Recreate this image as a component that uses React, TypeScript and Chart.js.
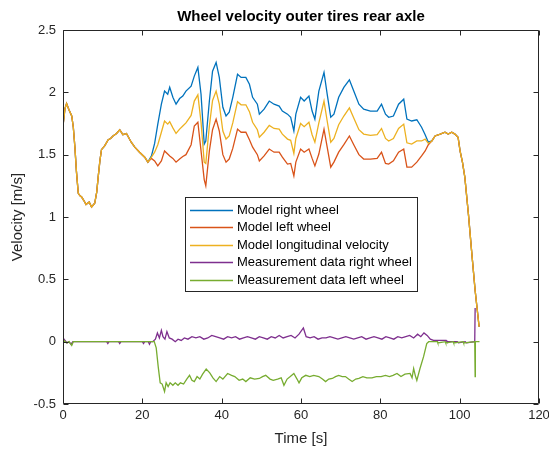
import React, { useEffect, useRef } from "react";
import { Chart, registerables } from "chart.js";

Chart.register(...registerables);

const TITLE = "Wheel velocity outer tires rear axle";
const X_LABEL = "Time [s]";
const Y_LABEL = "Velocity [m/s]";
const SERIES_NAMES = [
  "Model right wheel",
  "Model left wheel",
  "Model longitudinal velocity",
  "Measurement data right wheel",
  "Measurement data left wheel",
];
const SERIES_COLORS = ["#0072BD", "#D95319", "#EDB120", "#7E2F8E", "#77AC30"];

const X_TICKS = [0, 20, 40, 60, 80, 100, 120];
const Y_TICKS = [-0.5, 0, 0.5, 1, 1.5, 2, 2.5];

// Model time [s]
const modelTime = [
  0, 0.5, 0.9, 1.5, 2.2, 2.6, 3.0, 3.4, 3.85, 4.3, 4.7, 5.3, 5.8, 6.6, 7.2, 8.0, 8.5, 8.9, 9.3, 9.7,
  10.5, 11.4, 12.0, 12.6, 13.5, 14.3, 15.1, 16.0, 17.2, 18.1, 19.3, 20.6, 21.4, 22.3,
  23.1, 23.9, 24.8, 25.6, 26.4, 26.9, 27.7, 28.5, 29.4, 30.2, 31.0, 32.3, 33.1, 34.0, 34.8, 35.6,
  36.0, 36.9, 37.7, 38.6, 39.4, 40.3, 41.1, 41.9, 42.8, 44.0, 44.9, 46.1, 47.0, 47.8, 49.0, 49.5,
  50.7, 52.0, 53.2, 54.5, 55.3, 56.6, 57.4, 58.2, 58.7, 59.9, 60.8, 62.0, 62.8, 63.5, 64.5, 65.8,
  66.6, 67.5, 68.3, 69.5, 70.8, 72.2, 73.3, 74.6, 75.8, 77.5, 79.2, 80.3, 81.3, 82.1, 83.3, 84.6,
  85.9, 86.7, 87.9, 89.2, 90.4, 91.3, 92.1, 93.0, 93.8, 95.1, 96.3, 97.1, 98.0, 98.8, 99.6, 100.1,
  100.7, 101.3, 102.2, 103.0, 103.9, 104.9,
];

const modelRight = [
  1.73, 1.87, 1.91, 1.86, 1.81, 1.72, 1.56, 1.36, 1.19, 1.17, 1.16, 1.13, 1.1, 1.12, 1.08, 1.11, 1.2, 1.33, 1.45, 1.54,
  1.57, 1.62, 1.63, 1.65, 1.67, 1.7, 1.66, 1.67, 1.6, 1.56, 1.52, 1.48, 1.44, 1.49,
  1.59, 1.745, 1.905, 2.01, 1.985, 2.04, 1.96, 1.905, 1.95, 1.97, 2.01, 2.05, 2.13, 2.2, 1.985, 1.585,
  1.61, 1.93, 2.17, 2.24, 2.12, 1.88, 1.81, 1.84, 1.96, 2.145, 2.12, 2.12, 2.065, 1.96, 1.905, 1.825,
  1.865, 1.93, 1.905, 1.89, 1.85, 1.825, 1.8, 1.69, 1.825, 1.96, 1.93, 1.97, 1.85, 1.785, 2.01, 2.16,
  1.985, 1.8, 1.825, 1.96, 2.04, 2.1, 2.01, 1.905, 1.865, 1.85, 1.85, 1.905, 1.825, 1.8, 1.81, 1.905,
  1.945, 1.785, 1.77, 1.78, 1.72, 1.66, 1.6, 1.61, 1.65, 1.665, 1.68, 1.665, 1.68, 1.665, 1.64, 1.53,
  1.44, 1.32, 1.025, 0.73, 0.41, 0.12,
];

const modelLeft = [
  1.73, 1.87, 1.91, 1.86, 1.81, 1.72, 1.56, 1.36, 1.19, 1.17, 1.16, 1.13, 1.1, 1.12, 1.08, 1.11, 1.2, 1.33, 1.45, 1.54,
  1.57, 1.62, 1.63, 1.65, 1.67, 1.7, 1.66, 1.67, 1.6, 1.56, 1.52, 1.48, 1.44, 1.47,
  1.45, 1.41, 1.45, 1.53, 1.505, 1.49, 1.47, 1.44, 1.465, 1.485, 1.5, 1.58, 1.73, 1.76, 1.53, 1.3,
  1.25, 1.53, 1.7, 1.785, 1.69, 1.5, 1.44, 1.465, 1.55, 1.705, 1.68, 1.68, 1.62, 1.56, 1.5, 1.45,
  1.49, 1.545, 1.52, 1.52, 1.48, 1.425, 1.43, 1.33, 1.44, 1.545, 1.52, 1.545, 1.47, 1.41, 1.505, 1.705,
  1.56, 1.4, 1.44, 1.52, 1.58, 1.65, 1.58, 1.5, 1.465, 1.465, 1.47, 1.52, 1.43, 1.425, 1.45, 1.52,
  1.545, 1.4, 1.4, 1.44, 1.49, 1.53, 1.58, 1.61, 1.65, 1.665, 1.68, 1.665, 1.68, 1.665, 1.64, 1.53,
  1.44, 1.32, 1.025, 0.73, 0.41, 0.12,
];

const modelLongitudinal = [
  1.73, 1.87, 1.91, 1.86, 1.81, 1.72, 1.56, 1.36, 1.19, 1.17, 1.16, 1.13, 1.1, 1.12, 1.08, 1.11, 1.2, 1.33, 1.45, 1.54,
  1.57, 1.62, 1.63, 1.65, 1.67, 1.7, 1.66, 1.67, 1.6, 1.56, 1.52, 1.48, 1.44, 1.48,
  1.52, 1.58, 1.68, 1.77, 1.745, 1.765, 1.715, 1.67, 1.705, 1.73, 1.755, 1.815, 1.93, 1.98, 1.76, 1.44,
  1.43, 1.73, 1.935, 2.01, 1.905, 1.69, 1.625, 1.65, 1.755, 1.925, 1.9, 1.9, 1.845, 1.76, 1.7, 1.64,
  1.68, 1.735, 1.71, 1.705, 1.665, 1.625, 1.615, 1.51, 1.63, 1.75, 1.725, 1.76, 1.66, 1.6, 1.755, 1.93,
  1.77, 1.6, 1.63, 1.74, 1.81, 1.875, 1.795, 1.7, 1.665, 1.655, 1.66, 1.71, 1.63, 1.61, 1.63, 1.71,
  1.745, 1.595, 1.585, 1.61, 1.61, 1.625, 1.59, 1.61, 1.65, 1.665, 1.68, 1.665, 1.68, 1.665, 1.64, 1.53,
  1.44, 1.32, 1.025, 0.73, 0.41, 0.12,
];

// Measurement data
const measRightTime = [
  0, 0.5, 1.0, 1.5, 2.0, 2.5, 3.0, 11.0, 11.3, 11.6, 14.0, 14.3, 14.6, 20.0, 20.3, 20.6, 21.5, 21.8, 22.1,
  22.6, 23.3, 23.8, 24.3, 24.8, 25.2, 25.7, 26.2, 26.8, 27.5, 28.3, 29.0, 29.8, 30.6, 31.5, 32.5, 33.5,
  34.5, 35.5, 36.5, 37.5, 38.5, 39.5, 40.5, 41.5, 42.5, 43.5, 44.5, 45.5, 46.5, 47.5, 48.5, 49.5, 50.5,
  51.5, 52.5, 53.5, 54.5, 55.5, 56.5, 57.5, 58.5, 59.5, 60.6, 61.3, 62.3, 63.3, 64.3, 65.3, 66.3, 67.3,
  68.3, 69.3, 70.3, 71.3, 72.3, 73.3, 74.3, 75.3, 76.4, 77.4, 78.4, 79.4, 80.4, 81.4, 82.4, 83.4, 84.4,
  85.4, 86.4, 87.4, 88.4, 89.4, 90.2, 91.0, 91.8, 92.6, 93.4, 94.4, 95.4, 96.6, 96.8, 99.4, 99.7, 101.4,
  101.7, 103.8, 103.9,
];
const measRight = [
  0.03, 0.01, -0.01, 0.0, -0.02, 0.0, 0.0, 0.0, -0.015, 0.0, 0.0, -0.015, 0.0, 0.0, -0.015, 0.0, 0.0, -0.02, 0.0,
  0.0, 0.02, 0.07, 0.03, 0.09, 0.04, 0.02, 0.08, 0.03, 0.02, 0.0, 0.02, 0.01, 0.03, 0.02, 0.04, 0.03,
  0.04, 0.02, 0.03, 0.05, 0.04, 0.03, 0.02, 0.04, 0.03, 0.04, 0.02, 0.03, 0.04, 0.03, 0.02, 0.04, 0.03,
  0.02, 0.04, 0.03, 0.05, 0.03, 0.04, 0.05, 0.03, 0.06, 0.11, 0.04, 0.03, 0.04, 0.02, 0.03, 0.03, 0.04,
  0.03, 0.02, 0.03, 0.04, 0.03, 0.02, 0.03, 0.04, 0.02, 0.03, 0.04, 0.03, 0.02, 0.04, 0.03, 0.02, 0.04,
  0.03, 0.04, 0.05, 0.03, 0.06, 0.04, 0.07, 0.05, 0.02, 0.01, 0.01, 0.01, 0.01, 0.0, 0.0, -0.01, 0.0,
  -0.01, 0.0, 0.27,
];

const measLeftTime = [
  0, 0.5, 1.0, 1.5, 2.2, 2.6, 23.0, 23.5, 24.0, 24.5, 25.0, 25.6, 26.0, 26.5, 27.0, 27.7, 28.3, 29.0,
  29.6, 30.4, 31.2, 31.9, 32.5, 33.1, 33.8, 34.5, 35.2, 36.1, 37.0, 37.8, 38.6, 39.5, 40.3, 41.5, 42.5,
  43.3, 44.4, 45.3, 46.1, 47.2, 48.3, 49.5, 50.3, 51.1, 52.2, 53.0, 54.1, 55.0, 55.7, 56.5, 57.3, 58.2,
  59.0, 59.5, 60.2, 61.2, 62.2, 63.2, 64.5, 65.4, 66.2, 67.0, 67.9, 68.7, 69.5, 70.4, 71.2, 72.0, 72.9,
  73.8, 74.6, 75.6, 76.6, 77.9, 79.0, 80.2, 81.3, 82.3, 83.2, 84.2, 85.2, 86.2, 87.5, 88.0, 88.4, 88.8,
  89.2, 90.0, 90.9, 91.7, 92.2, 94.4, 94.5, 96.4, 96.5, 98.4, 98.5, 100.9, 101.0, 103.8, 103.9, 103.95,
  105.0,
];
const measLeft = [
  0.02, 0.0, -0.01, 0.0, -0.03, 0.0, 0.0, -0.05, -0.2, -0.33, -0.34, -0.4, -0.33, -0.36, -0.33, -0.35, -0.33, -0.35,
  -0.33, -0.34, -0.3, -0.27, -0.31, -0.32, -0.28, -0.3, -0.26, -0.22, -0.25, -0.29, -0.32, -0.28, -0.3, -0.255, -0.27,
  -0.28, -0.31, -0.3, -0.32, -0.29, -0.3, -0.295, -0.28, -0.27, -0.3, -0.31, -0.3, -0.29, -0.35, -0.3, -0.28, -0.255,
  -0.3, -0.33, -0.29, -0.27, -0.28, -0.27, -0.28, -0.3, -0.32, -0.3, -0.295, -0.28, -0.27, -0.28, -0.28, -0.3, -0.32,
  -0.3, -0.295, -0.28, -0.29, -0.29, -0.28, -0.28, -0.27, -0.28, -0.27, -0.255, -0.28, -0.26, -0.255, -0.29, -0.215, -0.27,
  -0.31, -0.215, -0.12, -0.015, 0.0, 0.0, -0.01, 0.0, -0.01, 0.0, -0.01, 0.0, -0.01, 0.0, -0.28, 0.0,
  0.0,
];

const AXIS_COLOR = "#262626";
const FONT = "'Liberation Sans', Arial, Helvetica, sans-serif";

const toPoints = (xs: number[], ys: number[]) => xs.map((x, i) => ({ x, y: ys[i] }));

const decorPlugin = {
  id: "matlabDecor",
  afterDraw(chart: any) {
    const { ctx, chartArea } = chart;
    const { left, right, top, bottom } = chartArea;
    const xs = chart.scales.x;
    const ys = chart.scales.y;
    ctx.save();
    ctx.strokeStyle = AXIS_COLOR;
    ctx.lineWidth = 1;
    const L = Math.round(left) + 0.5;
    const R = Math.round(right) - 0.5;
    const T = Math.round(top) + 0.5;
    const B = Math.round(bottom) - 0.5;
    ctx.beginPath();
    ctx.rect(L, T, R - L, B - T);
    ctx.stroke();
    const tl = 5;
    ctx.beginPath();
    X_TICKS.forEach((v) => {
      const px = Math.round(xs.getPixelForValue(v)) + 0.5;
      ctx.moveTo(px, B);
      ctx.lineTo(px, B - tl);
      ctx.moveTo(px, T);
      ctx.lineTo(px, T + tl);
    });
    Y_TICKS.forEach((v) => {
      const py = Math.round(ys.getPixelForValue(v)) + 0.5;
      ctx.moveTo(L, py);
      ctx.lineTo(L + tl, py);
      ctx.moveTo(R, py);
      ctx.lineTo(R - tl, py);
    });
    ctx.stroke();

    ctx.fillStyle = "#000000";
    ctx.textAlign = "center";
    ctx.textBaseline = "middle";
    ctx.font = `bold 15px ${FONT}`;
    ctx.fillText(TITLE, (left + right) / 2, 17);
    ctx.fillStyle = AXIS_COLOR;
    ctx.font = `15px ${FONT}`;
    ctx.fillText(X_LABEL, (left + right) / 2, 439);
    ctx.save();
    ctx.translate(18, (top + bottom) / 2);
    ctx.rotate(-Math.PI / 2);
    ctx.fillText(Y_LABEL, 0, 0);
    ctx.restore();

    const lx = 185.5, ly = 197.5, lw = 232, lh = 94;
    ctx.fillStyle = "#ffffff";
    ctx.fillRect(lx, ly, lw, lh);
    ctx.strokeStyle = AXIS_COLOR;
    ctx.lineWidth = 1;
    ctx.strokeRect(lx, ly, lw, lh);
    ctx.font = `13px ${FONT}`;
    ctx.textAlign = "left";
    ctx.textBaseline = "middle";
    SERIES_NAMES.forEach((name, i) => {
      const cy = 209.5 + i * 17.5;
      ctx.strokeStyle = SERIES_COLORS[i];
      ctx.lineWidth = 1.3;
      ctx.beginPath();
      ctx.moveTo(190, Math.round(cy) + 0.5);
      ctx.lineTo(233, Math.round(cy) + 0.5);
      ctx.stroke();
      ctx.fillStyle = "#000000";
      ctx.fillText(name, 237, cy + 0.5);
    });
    ctx.restore();
  },
};

export default function App() {
  const canvasRef = useRef<HTMLCanvasElement | null>(null);

  useEffect(() => {
    const canvas = canvasRef.current;
    if (!canvas) return;
    const lineDs = (label: string, pts: any[], color: string, order: number) => ({
      label,
      data: pts,
      borderColor: color,
      backgroundColor: color,
      borderWidth: 1.3,
      pointRadius: 0,
      tension: 0,
      fill: false,
      order,
    });
    const chart = new Chart(canvas, {
      type: "line",
      data: {
        datasets: [
          lineDs(SERIES_NAMES[0], toPoints(modelTime, modelRight), SERIES_COLORS[0], 5),
          lineDs(SERIES_NAMES[1], toPoints(modelTime, modelLeft), SERIES_COLORS[1], 4),
          lineDs(SERIES_NAMES[2], toPoints(modelTime, modelLongitudinal), SERIES_COLORS[2], 3),
          lineDs(SERIES_NAMES[3], toPoints(measRightTime, measRight), SERIES_COLORS[3], 2),
          lineDs(SERIES_NAMES[4], toPoints(measLeftTime, measLeft), SERIES_COLORS[4], 1),
        ],
      },
      options: {
        responsive: false,
        devicePixelRatio: 1,
        animation: false,
        events: [],
        layout: { padding: { top: 30, right: 10, left: 0, bottom: 0 } },
        plugins: {
          legend: { display: false },
          title: { display: false },
          tooltip: { enabled: false },
        },
        scales: {
          x: {
            type: "linear",
            min: 0,
            max: 120,
            grid: { display: false, drawTicks: false },
            border: { display: false },
            ticks: {
              color: AXIS_COLOR,
              font: { family: FONT, size: 13 },
              padding: 4,
              maxRotation: 0,
              callback: (v: any) => String(v),
            },
            afterBuildTicks: (s: any) => {
              s.ticks = X_TICKS.map((v) => ({ value: v }));
            },
            afterFit: (s: any) => {
              s.height = 46;
              s.paddingLeft = 0;
              s.paddingRight = 0;
            },
          },
          y: {
            type: "linear",
            min: -0.5,
            max: 2.5,
            grid: { display: false, drawTicks: false },
            border: { display: false },
            ticks: {
              color: AXIS_COLOR,
              font: { family: FONT, size: 13 },
              padding: 7,
              callback: (v: any) => String(v),
            },
            afterBuildTicks: (s: any) => {
              s.ticks = Y_TICKS.map((v) => ({ value: v }));
            },
            afterFit: (s: any) => {
              s.width = 63;
              s.paddingTop = 0;
              s.paddingBottom = 0;
            },
          },
        },
      },
      plugins: [decorPlugin],
    });
    return () => chart.destroy();
  }, []);

  return (
    <div style={{ position: "fixed", left: 0, top: 0, width: 549, height: 450, background: "#ffffff" }}>
      <canvas ref={canvasRef} width={549} height={450} style={{ display: "block" }} />
    </div>
  );
}
